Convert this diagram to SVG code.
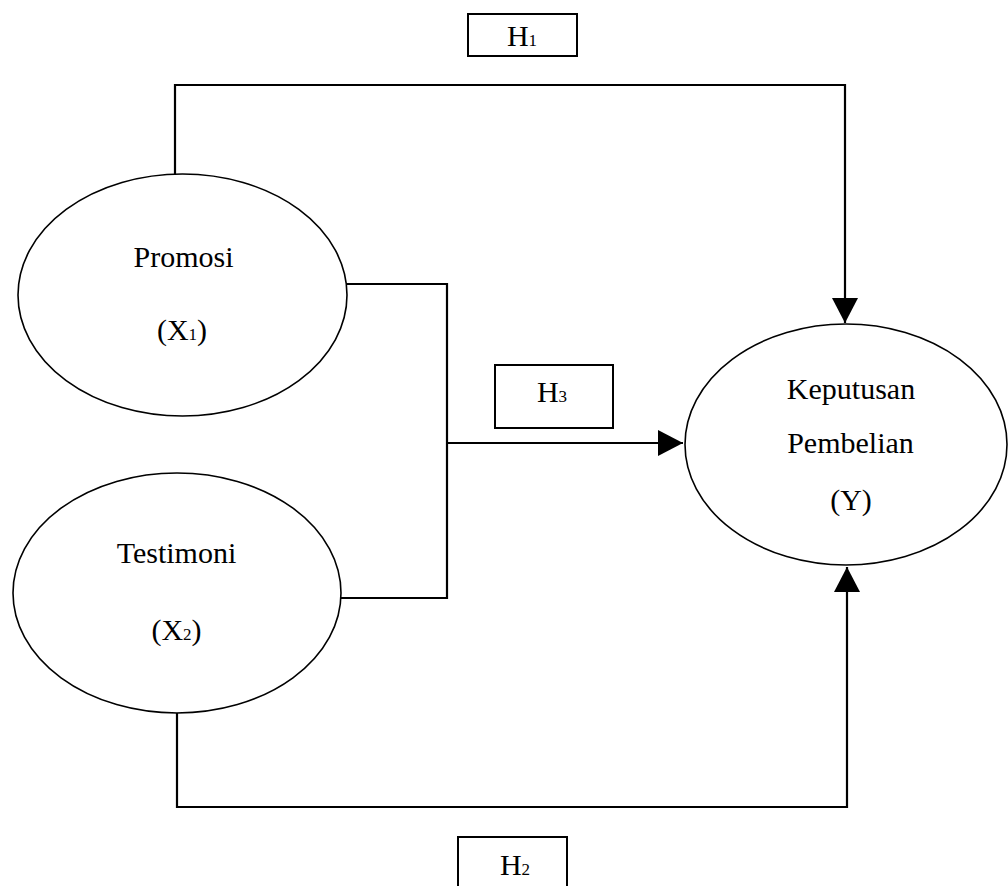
<svg xmlns="http://www.w3.org/2000/svg" width="1008" height="886" viewBox="0 0 1008 886">
<style>
.node{fill:#fff;stroke:#000;stroke-width:1.6}
.box{fill:#fff;stroke:#000;stroke-width:2}
.lbl{font-family:"Liberation Serif","Times New Roman",serif;font-size:30px;fill:#000;text-anchor:middle}
.sub{font-size:17px}
.conn{fill:none;stroke:#000;stroke-width:2.2}
</style>
<defs>
<marker id="arr" markerUnits="userSpaceOnUse" markerWidth="26" markerHeight="26" refX="25" refY="13" orient="auto" viewBox="0 0 26 26">
<path d="M0,0 L25,13 L0,26 z" fill="#000"/>
</marker>
</defs>
<g id="connectors">
<polyline class="conn" points="175,174 175,85 845,85 845,323" marker-end="url(#arr)"/>
<polyline class="conn" points="177,713 177,807 847,807 847,567" marker-end="url(#arr)"/>
<polyline class="conn" points="347,284 447,284 447,598 341,598"/>
<line class="conn" x1="447" y1="443" x2="683" y2="443" marker-end="url(#arr)"/>
</g>
<g id="promosi">
<ellipse class="node" cx="182.5" cy="295" rx="164.5" ry="121"/>
<text class="lbl" x="183.5" y="267">Promosi</text>
<text class="lbl" x="182" y="340">(X<tspan class="sub">1</tspan>)</text>
</g>
<g id="testimoni">
<ellipse class="node" cx="177" cy="593" rx="164" ry="120"/>
<text class="lbl" x="176.5" y="563">Testimoni</text>
<text class="lbl" x="176.5" y="640">(X<tspan class="sub">2</tspan>)</text>
</g>
<g id="keputusan">
<ellipse class="node" cx="846" cy="444.5" rx="161" ry="120.5"/>
<text class="lbl" x="851" y="399">Keputusan</text>
<text class="lbl" x="850.5" y="453">Pembelian</text>
<text class="lbl" x="851" y="510">(Y)</text>
</g>
<g id="h1">
<rect class="box" x="468" y="14" width="109" height="42"/>
<text class="lbl" x="522" y="46">H<tspan class="sub">1</tspan></text>
</g>
<g id="h3">
<rect class="box" x="495" y="365" width="118" height="63"/>
<text class="lbl" x="552" y="402">H<tspan class="sub">3</tspan></text>
</g>
<g id="h2">
<rect class="box" x="458" y="837" width="109" height="52"/>
<text class="lbl" x="515" y="875">H<tspan class="sub">2</tspan></text>
</g>
</svg>
